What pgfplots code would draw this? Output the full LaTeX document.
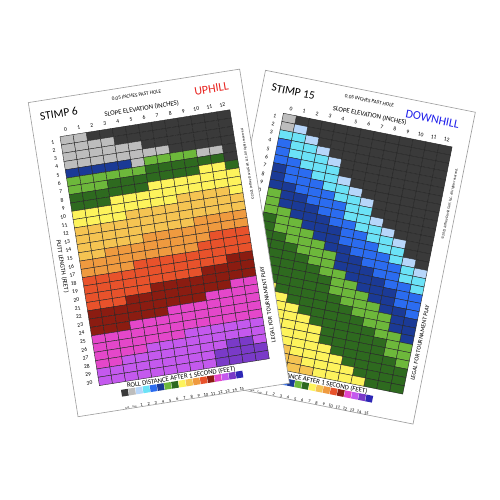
\documentclass[border=0pt]{standalone}
\usepackage{fontspec}
\setmainfont{Carlito}
\usepackage{pgfplots}
\usepackage{pgfplotstable}
\pgfplotsset{compat=1.18}

% roll distance scale: c0 = N/A, c1 = cup, c2..c16 = 1..15 ft
\definecolor{c0}{HTML}{3A3A3A}
\definecolor{c1}{HTML}{BDBDBD}
\definecolor{c2}{HTML}{B7D6FA}
\definecolor{c3}{HTML}{6BE2F7}
\definecolor{c4}{HTML}{2B6CF0}
\definecolor{c5}{HTML}{1B3A96}
\definecolor{c6}{HTML}{6DB83B}
\definecolor{c7}{HTML}{2E6A1F}
\definecolor{c8}{HTML}{FDF35C}
\definecolor{c9}{HTML}{F5C452}
\definecolor{c10}{HTML}{EF9A3F}
\definecolor{c11}{HTML}{E8522B}
\definecolor{c12}{HTML}{8B1C11}
\definecolor{c13}{HTML}{E447CA}
\definecolor{c14}{HTML}{C459EE}
\definecolor{c15}{HTML}{7A3AC8}
\definecolor{c16}{HTML}{2E27B5}
\definecolor{uphill}{HTML}{E8231F}
\definecolor{downhill}{HTML}{1E1EEB}
\definecolor{cardline}{HTML}{9C9C9C}

% one value per cell, 13 per row (slope 0..12), rows = putt length 1..30
\pgfplotstableread[row sep=\\]{
v\\
1\\ 0\\ 0\\ 0\\ 0\\ 0\\ 0\\ 0\\ 0\\ 0\\ 0\\ 0\\ 0\\
1\\ 2\\ 0\\ 0\\ 0\\ 0\\ 0\\ 0\\ 0\\ 0\\ 0\\ 0\\ 0\\
3\\ 3\\ 2\\ 0\\ 0\\ 0\\ 0\\ 0\\ 0\\ 0\\ 0\\ 0\\ 0\\
4\\ 3\\ 3\\ 2\\ 0\\ 0\\ 0\\ 0\\ 0\\ 0\\ 0\\ 0\\ 0\\
4\\ 3\\ 3\\ 3\\ 2\\ 0\\ 0\\ 0\\ 0\\ 0\\ 0\\ 0\\ 0\\
4\\ 4\\ 3\\ 3\\ 3\\ 0\\ 0\\ 0\\ 0\\ 0\\ 0\\ 0\\ 0\\
5\\ 4\\ 4\\ 3\\ 3\\ 2\\ 0\\ 0\\ 0\\ 0\\ 0\\ 0\\ 0\\
5\\ 4\\ 4\\ 4\\ 3\\ 3\\ 2\\ 0\\ 0\\ 0\\ 0\\ 0\\ 0\\
5\\ 5\\ 4\\ 4\\ 4\\ 3\\ 3\\ 2\\ 0\\ 0\\ 0\\ 0\\ 0\\
6\\ 5\\ 5\\ 4\\ 4\\ 4\\ 3\\ 3\\ 0\\ 0\\ 0\\ 0\\ 0\\
6\\ 5\\ 5\\ 5\\ 4\\ 4\\ 3\\ 3\\ 2\\ 0\\ 0\\ 0\\ 0\\
6\\ 6\\ 5\\ 5\\ 5\\ 4\\ 4\\ 3\\ 3\\ 2\\ 0\\ 0\\ 0\\
7\\ 6\\ 6\\ 5\\ 5\\ 5\\ 4\\ 4\\ 3\\ 3\\ 2\\ 0\\ 0\\
7\\ 6\\ 6\\ 6\\ 5\\ 5\\ 4\\ 4\\ 4\\ 3\\ 3\\ 0\\ 0\\
7\\ 7\\ 6\\ 6\\ 6\\ 5\\ 5\\ 4\\ 4\\ 4\\ 3\\ 2\\ 0\\
7\\ 7\\ 7\\ 6\\ 6\\ 6\\ 5\\ 5\\ 4\\ 4\\ 4\\ 3\\ 2\\
7\\ 7\\ 7\\ 7\\ 6\\ 6\\ 5\\ 5\\ 5\\ 4\\ 4\\ 3\\ 3\\
7\\ 7\\ 7\\ 7\\ 7\\ 6\\ 6\\ 5\\ 5\\ 5\\ 4\\ 4\\ 3\\
8\\ 7\\ 7\\ 7\\ 7\\ 7\\ 6\\ 6\\ 5\\ 5\\ 5\\ 4\\ 4\\
8\\ 7\\ 7\\ 7\\ 7\\ 7\\ 6\\ 6\\ 6\\ 5\\ 5\\ 4\\ 4\\
8\\ 8\\ 7\\ 7\\ 7\\ 7\\ 7\\ 6\\ 6\\ 6\\ 5\\ 5\\ 4\\
8\\ 8\\ 8\\ 7\\ 7\\ 7\\ 7\\ 7\\ 6\\ 6\\ 6\\ 5\\ 5\\
8\\ 8\\ 8\\ 8\\ 7\\ 7\\ 7\\ 7\\ 7\\ 6\\ 6\\ 5\\ 5\\
9\\ 8\\ 8\\ 8\\ 8\\ 7\\ 7\\ 7\\ 7\\ 7\\ 6\\ 6\\ 5\\
9\\ 9\\ 8\\ 8\\ 8\\ 8\\ 7\\ 7\\ 7\\ 7\\ 7\\ 6\\ 6\\
9\\ 9\\ 9\\ 8\\ 8\\ 8\\ 7\\ 7\\ 7\\ 7\\ 7\\ 6\\ 6\\
9\\ 9\\ 9\\ 8\\ 8\\ 8\\ 8\\ 7\\ 7\\ 7\\ 7\\ 7\\ 6\\
9\\ 9\\ 9\\ 9\\ 8\\ 8\\ 8\\ 8\\ 7\\ 7\\ 7\\ 7\\ 7\\
9\\ 9\\ 9\\ 9\\ 9\\ 8\\ 8\\ 8\\ 8\\ 7\\ 7\\ 7\\ 7\\
9\\ 9\\ 9\\ 9\\ 9\\ 9\\ 8\\ 8\\ 8\\ 8\\ 7\\ 7\\ 7\\
}\downhilldata

\pgfplotstableread[row sep=\\]{
v\\
1\\ 1\\ 0\\ 0\\ 0\\ 0\\ 0\\ 0\\ 0\\ 0\\ 0\\ 0\\ 0\\
1\\ 1\\ 1\\ 1\\ 0\\ 0\\ 0\\ 0\\ 0\\ 0\\ 0\\ 0\\ 0\\
1\\ 1\\ 1\\ 1\\ 1\\ 1\\ 0\\ 0\\ 0\\ 0\\ 0\\ 0\\ 0\\
1\\ 1\\ 1\\ 1\\ 1\\ 1\\ 1\\ 1\\ 0\\ 0\\ 0\\ 0\\ 0\\
5\\ 5\\ 5\\ 5\\ 5\\ 1\\ 6\\ 6\\ 6\\ 6\\ 1\\ 1\\ 0\\
6\\ 6\\ 6\\ 6\\ 6\\ 6\\ 7\\ 7\\ 7\\ 7\\ 7\\ 7\\ 0\\
6\\ 6\\ 6\\ 7\\ 7\\ 7\\ 7\\ 7\\ 7\\ 7\\ 8\\ 8\\ 7\\
7\\ 7\\ 7\\ 7\\ 7\\ 7\\ 8\\ 8\\ 8\\ 8\\ 8\\ 8\\ 8\\
7\\ 7\\ 7\\ 8\\ 8\\ 8\\ 8\\ 8\\ 8\\ 8\\ 8\\ 8\\ 8\\
8\\ 8\\ 8\\ 8\\ 8\\ 8\\ 8\\ 8\\ 9\\ 9\\ 9\\ 9\\ 8\\
8\\ 8\\ 8\\ 8\\ 9\\ 9\\ 9\\ 9\\ 9\\ 9\\ 9\\ 9\\ 9\\
9\\ 9\\ 9\\ 9\\ 9\\ 9\\ 9\\ 9\\ 9\\ 9\\ 9\\ 9\\ 9\\
9\\ 9\\ 9\\ 9\\ 9\\ 9\\ 9\\ 9\\ 9\\ 10\\ 10\\ 10\\ 10\\
9\\ 9\\ 9\\ 9\\ 9\\ 10\\ 10\\ 10\\ 10\\ 10\\ 10\\ 10\\ 10\\
9\\ 9\\ 10\\ 10\\ 10\\ 10\\ 10\\ 10\\ 10\\ 10\\ 11\\ 11\\ 11\\
10\\ 10\\ 10\\ 10\\ 10\\ 10\\ 10\\ 10\\ 10\\ 11\\ 11\\ 11\\ 11\\
10\\ 10\\ 10\\ 10\\ 11\\ 11\\ 11\\ 11\\ 11\\ 11\\ 11\\ 11\\ 11\\
11\\ 11\\ 11\\ 11\\ 11\\ 11\\ 11\\ 11\\ 11\\ 11\\ 11\\ 12\\ 12\\
11\\ 11\\ 11\\ 11\\ 11\\ 11\\ 11\\ 11\\ 11\\ 12\\ 12\\ 12\\ 12\\
11\\ 11\\ 11\\ 11\\ 11\\ 12\\ 12\\ 12\\ 12\\ 12\\ 12\\ 12\\ 12\\
11\\ 11\\ 11\\ 12\\ 12\\ 12\\ 12\\ 12\\ 12\\ 12\\ 12\\ 13\\ 13\\
12\\ 12\\ 12\\ 12\\ 12\\ 12\\ 12\\ 12\\ 12\\ 13\\ 13\\ 13\\ 13\\
12\\ 12\\ 12\\ 12\\ 12\\ 12\\ 13\\ 13\\ 13\\ 13\\ 13\\ 13\\ 13\\
12\\ 12\\ 12\\ 13\\ 13\\ 13\\ 13\\ 13\\ 13\\ 13\\ 13\\ 13\\ 13\\
13\\ 13\\ 13\\ 13\\ 13\\ 13\\ 13\\ 13\\ 13\\ 13\\ 13\\ 13\\ 13\\
13\\ 13\\ 13\\ 13\\ 13\\ 13\\ 13\\ 14\\ 14\\ 14\\ 14\\ 14\\ 14\\
13\\ 13\\ 13\\ 13\\ 14\\ 14\\ 14\\ 14\\ 14\\ 14\\ 14\\ 14\\ 14\\
13\\ 13\\ 14\\ 14\\ 14\\ 14\\ 14\\ 14\\ 14\\ 14\\ 15\\ 15\\ 14\\
14\\ 14\\ 14\\ 14\\ 14\\ 14\\ 14\\ 14\\ 14\\ 15\\ 15\\ 15\\ 15\\
14\\ 14\\ 14\\ 14\\ 14\\ 14\\ 14\\ 14\\ 14\\ 15\\ 15\\ 15\\ 15\\
}\uphilldata

\pgfplotsset{
  card/.style={
    disabledatascaling, anchor=origin, hide axis, clip=false,
    xmin=-0.5, xmax=12.5, ymin=0, ymax=30.5,
  },
  % one rotated 13.23 x 8.4 rectangle per cell, dark cell border
  cellmarks/.style={only marks, mark=square*, mark size=4.2pt,
    mark options={rotate=#1, xscale=1.575, draw=black!85, line width=0.4pt}},
}

\newcommand{\fs}[1]{\fontsize{#1}{#1}\selectfont}
\newcommand{\sq}[1]{\makebox[7.25pt]{\textcolor{#1}{\rule{6.8pt}{6.8pt}}}}
\newcommand{\lb}[1]{\makebox[7.25pt]{\fs{4.4}#1}}
\newcommand{\keyrow}{%
  \sq{c0}\sq{c1}\sq{c2}\sq{c3}\sq{c4}\sq{c5}\sq{c6}\sq{c7}\sq{c8}%
  \sq{c9}\sq{c10}\sq{c11}\sq{c12}\sq{c13}\sq{c14}\sq{c15}\sq{c16}}
\newcommand{\keylabels}{%
  \makebox[7.25pt]{\fs{2.6}N/A}\makebox[7.25pt]{\fs{2.6}Cup}%
  \lb{1}\lb{2}\lb{3}\lb{4}\lb{5}\lb{6}\lb{7}\lb{8}\lb{9}\lb{10}\lb{11}\lb{12}\lb{13}\lb{14}\lb{15}}

% card face: #1 angle, #2 stimp, #3 direction, #4 its colour
\newcommand{\cardface}[4]{%
  \filldraw[fill=white, draw=cardline, line width=0.6pt]
    (axis cs:-2.464,-4.095) -- (axis cs:13.711,-4.095) --
    (axis cs:13.711,33.762) -- (axis cs:-2.464,33.762) -- cycle;
  \node[rotate=#1, anchor=west, font=\fs{11.5}] at (axis cs:-2.01,-2.25) {#2};
  \node[rotate=#1, anchor=east, font=\fs{12}, text=#4] at (axis cs:12.95,-2.3) {#3};
  \node[rotate=#1, font=\fs{5.2}] at (axis cs:5.7,-2.95) {0.05 INCHES PAST HOLE};
  \node[rotate=#1, font=\fs{6.8}] at (axis cs:5.93,-1.25) {SLOPE ELEVATION (INCHES)};
  \node[rotate={#1-90}, font=\fs{6.3}] at (axis cs:-1.86,15.8) {PUTT LENGTH (FEET)};
  \node[rotate={#1+90}, font=\fs{3.6}] at (axis cs:13.18,7.2)
    {\textcopyright2021 Jeffrey David Golf, LLC. All rights reserved.};
  \node[rotate={#1+90}, font=\fs{6}] at (axis cs:13.03,24.1) {LEGAL FOR TOURNAMENT PLAY};
  \node[rotate=#1, font=\fs{6.8}] at (axis cs:5.7,31.05) {ROLL DISTANCE AFTER 1 SECOND (FEET)};
  \node[rotate=#1, align=center, inner sep=0pt] at (axis cs:5.7,32.6) {\keyrow\\[0.8pt]\keylabels};
  \pgfplotsinvokeforeach{0,1,2,3,4,5,6,7,8,9,10,11,12}{%
    \node[rotate=#1, font=\fs{5.6}] at (axis cs:##1,-0.22) {##1};}
  \pgfplotsinvokeforeach{1,2,3,4,5,6,7,8,9,10,11,12,13,14,15,16,17,18,19,20,21,22,23,24,25,26,27,28,29,30}{%
    \node[rotate=#1, anchor=east, font=\fs{5.6}] at (axis cs:-0.73,##1) {##1};}
}

\begin{document}
\begin{tikzpicture}
\fill[white] (0,0) rectangle (500pt,500pt);
\path[use as bounding box] (0,0) rectangle (500pt,500pt);

% downhill card, underneath
\begin{axis}[card, at={(290.73pt,389.58pt)},
  x={(12.973pt,-2.592pt)}, y={(-1.646pt,-8.237pt)}]
\cardface{-11.3}{STIMP 15}{DOWNHILL}{downhill}
\pgfplotsinvokeforeach{0,1,2,3,4,5,6,7,8,9}{%
  \addplot[cellmarks=-11.3, color=c#1]
    table[x index=0, y index=0,
          x expr={mod(\lineno+0.5,13)-0.5}, y expr={floor((\lineno+0.5)/13)+1},
          restrict expr to domain={\thisrow{v}}{#1:#1}] {\downhilldata};
}
\end{axis}

% uphill card, on top
\begin{axis}[card, at={(65.88pt,368.52pt)},
  x={(13.067pt,2.070pt)}, y={(1.314pt,-8.297pt)}]
\cardface{9}{STIMP 6}{UPHILL}{uphill}
\pgfplotsinvokeforeach{0,1,5,6,7,8,9,10,11,12,13,14,15}{%
  \addplot[cellmarks=9, color=c#1]
    table[x index=0, y index=0,
          x expr={mod(\lineno+0.5,13)-0.5}, y expr={floor((\lineno+0.5)/13)+1},
          restrict expr to domain={\thisrow{v}}{#1:#1}] {\uphilldata};
}
\end{axis}
\end{tikzpicture}
\end{document}
